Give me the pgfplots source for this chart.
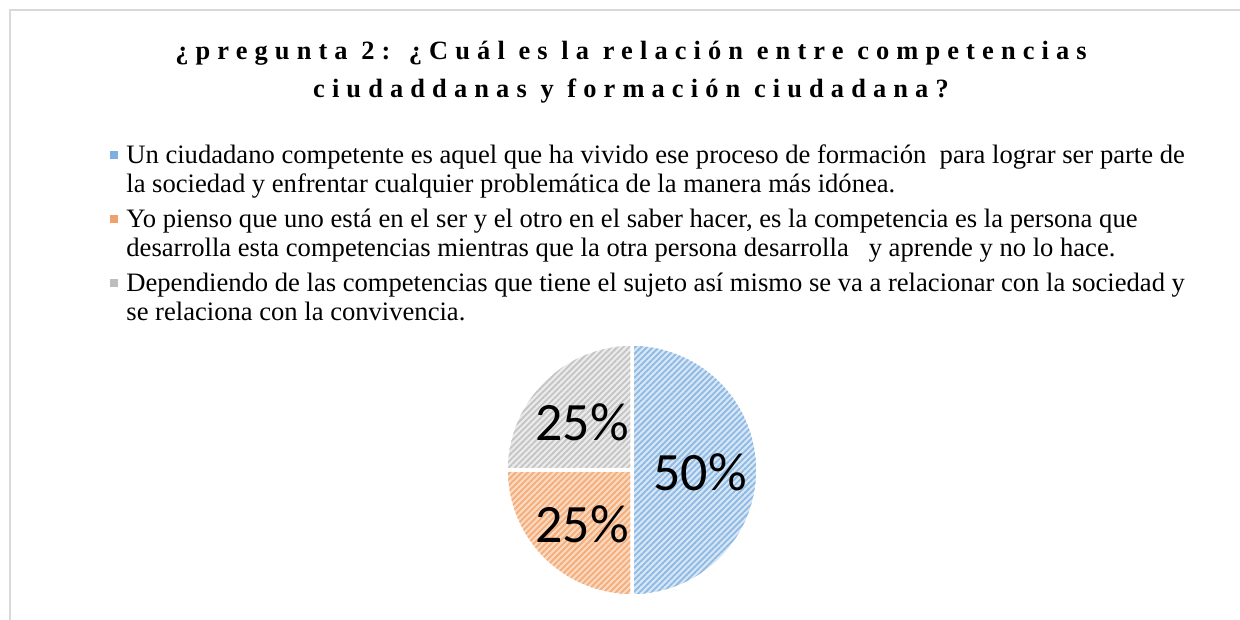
\documentclass[border=0pt]{standalone}
\usepackage{fontspec}
\setmainfont{Liberation Serif}
\newfontfamily\pctfont{Carlito}
\newfontfamily\titlefont[LetterSpace=27]{Liberation Serif}
\usepackage{pgfplots}
\usepackage{pgfplotstable}
\pgfplotsset{compat=1.18}
\usetikzlibrary{patterns.meta}

\definecolor{bBase}{HTML}{D6E6F5}
\definecolor{bLine}{HTML}{8DB9E4}
\definecolor{oBase}{HTML}{FBD9C0}
\definecolor{oLine}{HTML}{F4AC78}
\definecolor{gBase}{HTML}{EBEBEB}
\definecolor{gLine}{HTML}{C4C4C4}
\definecolor{bMark}{HTML}{7EB0DF}
\definecolor{oMark}{HTML}{F0A06A}
\definecolor{gMark}{HTML}{BDBDBD}
\definecolor{frameGray}{HTML}{D9D9D9}

\pgfplotstableread{
slice value
1 50
2 25
3 25
}\piedata

\begin{document}
\begin{tikzpicture}
\path[use as bounding box] (0,0) rectangle (620pt,310pt);
\draw[frameGray, line width=0.6pt] (5pt,0) -- (5pt,305pt) -- (620pt,305pt);
\node[anchor=base, align=center, font=\titlefont\bfseries\fontsize{13.2}{19.25}\selectfont]
  at (315.5pt,261pt) {¿pregunta 2: ¿Cuál es la relación entre competencias\\ciudaddanas y formación ciudadana?};

\pgfplotstablegetelem{0}{value}\of\piedata \let\vA\pgfplotsretval
\pgfplotstablegetelem{1}{value}\of\piedata \let\vB\pgfplotsretval
\pgfplotstablegetelem{2}{value}\of\piedata \let\vC\pgfplotsretval
\pgfmathsetmacro\aA{90}
\pgfmathsetmacro\aB{\aA-3.6*\vA}
\pgfmathsetmacro\aC{\aB-3.6*\vB}
\pgfmathsetmacro\aD{\aC-3.6*\vC}

\begin{axis}[
  at={(316pt,75pt)}, anchor=center,
  width=126pt, height=126pt, scale only axis,
  xmin=-1, xmax=1, ymin=-1, ymax=1,
  hide axis, clip=false,
  legend image code/.code={\fill[#1, draw=none] (0pt,2pt) rectangle (4pt,6pt);},
  legend style={
    at={(-1.5714,1.7988)}, anchor=north west,
    draw=none, fill=none, inner sep=0pt,
    row sep=20.3pt, column sep=4pt,
    nodes={anchor=base west, inner sep=0pt},
    font=\fontsize{13.3}{14.5}\selectfont,
  },
]
\addplot[forget plot, domain=\aA:\aB, samples=120, preaction={fill=bBase},
  pattern={Lines[angle=45,distance=2.1pt,line width=0.9pt]}, pattern color=bLine,
  draw=white, line width=1.75pt] ({cos(x)},{sin(x)}) -- (axis cs:0,0) -- cycle;
\addplot[forget plot, domain=\aB:\aC, samples=60, preaction={fill=oBase},
  pattern={Lines[angle=45,distance=2.1pt,line width=0.9pt]}, pattern color=oLine,
  draw=white, line width=1.75pt] ({cos(x)},{sin(x)}) -- (axis cs:0,0) -- cycle;
\addplot[forget plot, domain=\aC:\aD, samples=60, preaction={fill=gBase},
  pattern={Lines[angle=45,distance=2.1pt,line width=0.9pt]}, pattern color=gLine,
  draw=white, line width=1.75pt] ({cos(x)},{sin(x)}) -- (axis cs:0,0) -- cycle;

\node[font=\pctfont\fontsize{27}{29}\selectfont, inner sep=0pt] at (axis cs:0.54,-0.016) {\vA\%};
\node[font=\pctfont\fontsize{27}{29}\selectfont, inner sep=0pt] at (axis cs:-0.397,-0.429) {\vB\%};
\node[font=\pctfont\fontsize{27}{29}\selectfont, inner sep=0pt] at (axis cs:-0.397,0.381) {\vC\%};

\addlegendimage{fill=bMark}
\addlegendentry{\parbox[t]{600pt}{\strut Un ciudadano competente es aquel que ha vivido ese proceso de formación \ para lograr ser parte de\\la sociedad y enfrentar cualquier problemática de la manera más idónea.\strut}}
\addlegendimage{fill=oMark}
\addlegendentry{\parbox[t]{600pt}{\strut Yo pienso que uno está en el ser y el otro en el saber hacer, es la competencia es la persona que\\desarrolla esta competencias mientras que la otra persona desarrolla \ \ y aprende y no lo hace.\strut}}
\addlegendimage{fill=gMark}
\addlegendentry{\parbox[t]{600pt}{\strut Dependiendo de las competencias que tiene el sujeto así mismo se va a relacionar con la sociedad y\\se relaciona con la convivencia.\strut}}
\end{axis}
\end{tikzpicture}
\end{document}
